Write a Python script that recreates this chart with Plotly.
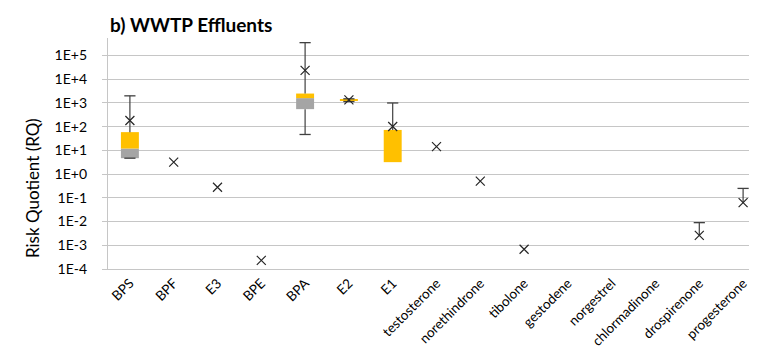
import plotly.graph_objects as go

categories = ["BPS", "BPF", "E3", "BPE", "BPA", "E2", "E1", "testosterone",
              "norethindrone", "tibolone", "gestodene", "norgestrel",
              "chlormadinone", "drospirenone", "progesterone"]

# box parts (lower quartile, median, upper quartile)
q1 = [4.7, None, None, None, 550, 1300, 3.2, None, None, None, None, None, None, None, None]
median = [12, None, None, None, 1600, 1300, 3.2, None, None, None, None, None, None, None, None]
q3 = [59, None, None, None, 2500, 1450, 73, None, None, None, None, None, None, None, None]
# mean (x marker)
mean = [183, 3.2, 0.28, 2.3e-4, 23600, 1350, 102, 14.5, 0.51, 6.8e-4,
        None, None, None, 2.6e-3, 0.063]
# whiskers
whisk_lo = [4.7, None, None, None, 47, 1150, None, None, None, None, None, None, None, None, None]
whisk_hi = [2000, None, None, None, 3.5e5, 1500, 1000, None, None, None, None, None, None, 9.0e-3, 0.25]

tick_vals = [1e-4, 1e-3, 1e-2, 1e-1, 1e0, 1e1, 1e2, 1e3, 1e4, 1e5]
tick_text = ["1E-4", "1E-3", "1E-2", "1E-1", "1E+0", "1E+1", "1E+2", "1E+3", "1E+4", "1E+5"]

FONT = "Lato"
GRID = "#C6C6C6"
WHISK = "#404040"

W, H = 757, 348
ML, MR, MT, MB = 100, 0, 30, 87
PW, PH = W - ML - MR, H - MT - MB

fig = go.Figure()

gx, gb, gy = [], [], []
ox, ob, oy = [], [], []
for c, a, m, b in zip(categories, q1, median, q3):
    if a is None:
        continue
    if m > a:
        gx.append(c); gb.append(a); gy.append(m - a)
    if b > m:
        ox.append(c); ob.append(m); oy.append(b - m)

fig.add_trace(go.Bar(x=gx, y=gy, base=gb, width=0.41, marker_color="#A5A5A5",
                     marker_line_width=0, showlegend=False))
fig.add_trace(go.Bar(x=ox, y=oy, base=ob, width=0.41, marker_color="#FFC000",
                     marker_line_width=0, showlegend=False))

wx, wy = [], []
capx, capy = [], []
for c, a, b, mu, lo, hi in zip(categories, q1, q3, mean, whisk_lo, whisk_hi):
    top_start = b if b is not None else mu
    bot_start = a if a is not None else mu
    if hi is not None:
        wx += [c, c, None]; wy += [top_start, hi, None]
        capx.append(c); capy.append(hi)
    if lo is not None:
        if lo < bot_start:
            wx += [c, c, None]; wy += [lo, bot_start, None]
        capx.append(c); capy.append(lo)

fig.add_trace(go.Scatter(x=wx, y=wy, mode="lines", line=dict(color=WHISK, width=1.2),
                         showlegend=False, hoverinfo="skip"))
fig.add_trace(go.Scatter(x=capx, y=capy, mode="markers",
                         marker=dict(symbol="line-ew-open", size=8, color=WHISK,
                                     line=dict(color=WHISK, width=1.3)),
                         showlegend=False, hoverinfo="skip"))

mx = [c for c, v in zip(categories, mean) if v is not None]
my = [v for v in mean if v is not None]
fig.add_trace(go.Scatter(x=mx, y=my, mode="markers",
                         marker=dict(symbol="x-thin-open", size=9, color="#262626",
                                     line=dict(color="#262626", width=1.2)),
                         showlegend=False))

fig.update_layout(
    width=W, height=H,
    margin=dict(l=ML, r=MR, t=MT, b=MB),
    paper_bgcolor="white", plot_bgcolor="white",
    barmode="overlay",
    font=dict(family=FONT, color="#000000"),
    annotations=[
        dict(text="<b>b) WWTP Effluents</b>", xref="paper", yref="paper",
             x=0, y=1, xanchor="left", yanchor="bottom", xshift=0, yshift=0,
             showarrow=False, font=dict(family=FONT, size=19, color="#000000")),
        dict(text="Risk Quotient (RQ)", xref="paper", yref="paper",
             x=(24 - ML) / PW, y=(H - MB - 180) / PH, xanchor="center", yanchor="middle",
             textangle=-90, showarrow=False,
             font=dict(family=FONT, size=17, color="#000000")),
    ],
)

fig.update_xaxes(
    type="category", categoryorder="array", categoryarray=categories,
    range=[-0.5, 14.5],
    tickangle=-45, tickfont=dict(family=FONT, size=13.5, color="#000000"),
    showgrid=False, showline=True, linecolor=GRID, linewidth=1.3,
    ticks="",
)
fig.update_yaxes(
    type="log", range=[-4, 5.74],
    tickvals=tick_vals, ticktext=tick_text,
    tickfont=dict(family=FONT, size=14, color="#000000"),
    showgrid=True, gridcolor=GRID, gridwidth=1.3,
    showline=True, linecolor=GRID, linewidth=1.3,
    ticks="outside", ticklen=5, tickcolor=GRID, tickwidth=1.3,
    ticklabelstandoff=12,
    zeroline=False,
)

fig.write_html("out.html")
